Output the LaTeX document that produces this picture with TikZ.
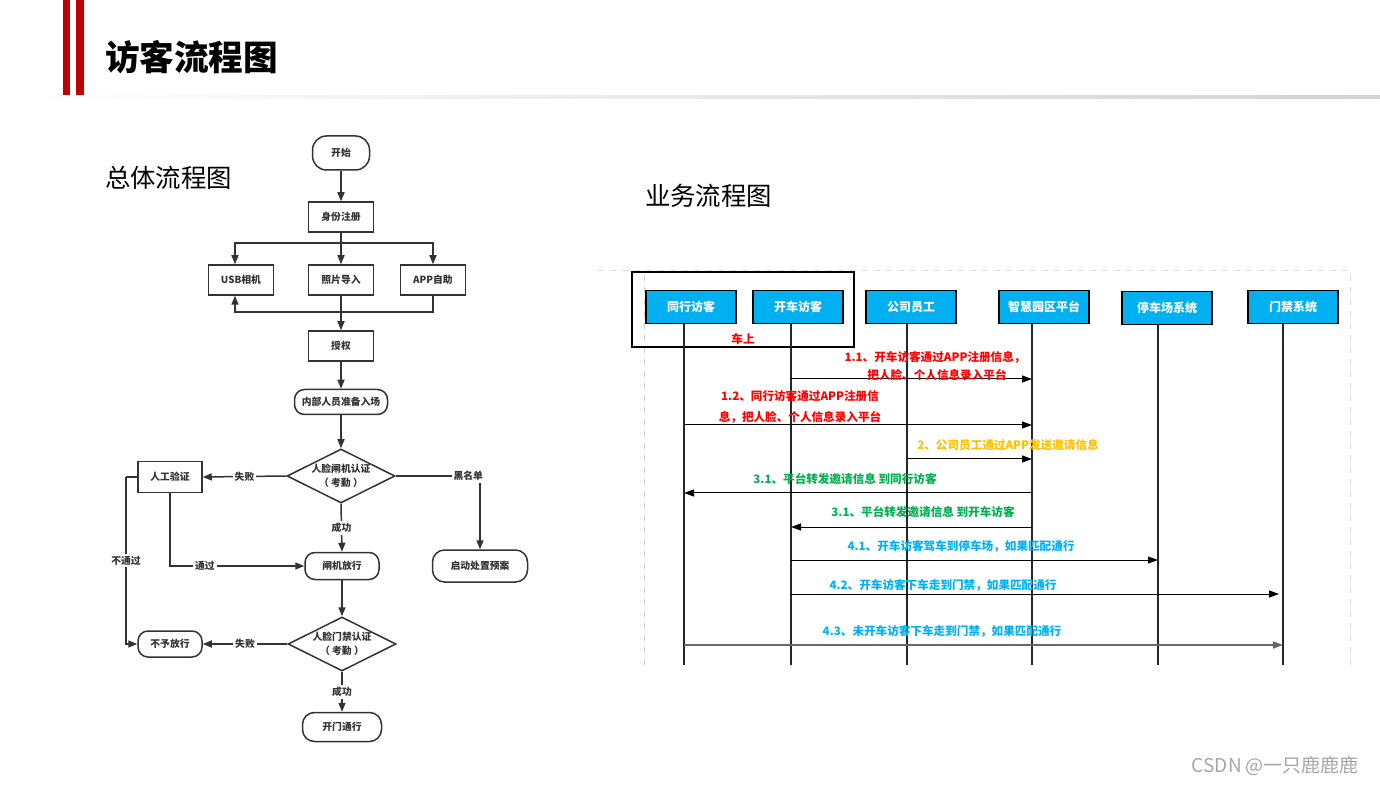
\documentclass[tikz,border=0pt]{standalone}
\usepackage{fontspec}
\setmainfont{Noto Sans CJK SC}
\usetikzlibrary{arrows.meta,shapes.geometric}
\definecolor{lc}{HTML}{333333}
\definecolor{hdred}{HTML}{C00000}
\definecolor{cyanb}{HTML}{00B0F0}
\definecolor{mred}{HTML}{FF0000}
\definecolor{morange}{HTML}{FFC000}
\definecolor{mgreen}{HTML}{00B050}
\definecolor{mblue}{HTML}{00B0F0}
\begin{document}
\begin{tikzpicture}[x=0.5pt,y=-0.5pt,
 ff/.style={font=\bfseries\fontsize{4.9pt}{7pt}\selectfont, text=lc},
 fbox/.style={ff, draw=lc, line width=0.75pt, inner sep=0pt, minimum width=32.5pt, minimum height=15pt},
 frbox/.style={fbox, rounded corners=5pt},
 fdia/.style={ff, draw=lc, line width=0.75pt, diamond, aspect=2, inner sep=0pt, minimum width=54pt, minimum height=27pt, align=center},
 fline/.style={draw=lc, line width=0.75pt},
 farr/.style={fline, -{Triangle[length=4.5pt,width=3.5pt]}},
 flbl/.style={ff, fill=white, inner sep=1pt},
 part/.style={draw=black, line width=0.6pt, fill=cyanb, text=white, font=\bfseries\fontsize{6pt}{7pt}\selectfont, minimum width=45pt, minimum height=16.5pt, inner sep=0pt},
 life/.style={draw=black!85, line width=1pt},
 msg/.style={draw=black, line width=0.5pt, -{Triangle[length=5pt,width=3.5pt]}},
 mlbl/.style={font=\bfseries\fontsize{5.8pt}{6pt}\selectfont, inner sep=0pt},
]
\useasboundingbox (0,0) rectangle (1380,785);
% header
\fill[hdred] (63,0) rectangle (70,96);
\fill[hdred] (76,0) rectangle (84,96);
\shade[left color=white, right color=gray!35] (5,96) rectangle (1380,99);
\node[anchor=west, font=\bfseries\fontsize{17.3pt}{20pt}\selectfont] (title) at (98,57) {访客流程图};
\node[anchor=west, font=\fontsize{12.7pt}{14pt}\selectfont] (sub1) at (98,178) {总体流程图};
\node[anchor=west, font=\fontsize{12.7pt}{14pt}\selectfont] (sub2) at (638,196) {业务流程图};

% flowchart
\node[frbox, rounded corners=7pt, minimum width=28.5pt, minimum height=17pt] (start) at (341,153) {开始};
\node[fbox] (reg) at (341,217) {身份注册};
\node[fbox] (usb) at (241,280) {USB相机};
\node[fbox] (photo) at (341,280) {照片导入};
\node[fbox] (app) at (433,280) {APP自助};
\node[fbox] (auth) at (341,346) {授权};
\node[frbox, minimum width=46.5pt, minimum height=12.5pt] (prep) at (341,402) {内部人员准备入场};
\node[fdia] (d1) at (341,476) {人脸闸机认证\\（ 考勤 ）};
\node[fbox, minimum width=32pt, minimum height=15.5pt] (manual) at (170,477) {人工验证};
\node[frbox, minimum width=47.5pt, minimum height=16pt, rounded corners=6pt] (blk) at (480,566) {启动处置预案};
\node[frbox, minimum width=37pt, minimum height=13.5pt] (gate) at (342,566) {闸机放行};
\node[fdia] (d2) at (342,644) {人脸门禁认证\\（ 考勤 ）};
\node[frbox, minimum width=32pt, minimum height=13pt] (deny) at (170,644) {不予放行};
\node[frbox, minimum width=39.5pt, minimum height=14.5pt, rounded corners=6pt] (open) at (342,727) {开门通行};

\coordinate (split) at (341,243);
\coordinate (join) at (341,312);
\coordinate (nl) at (126,477);
\draw[farr] (start) -- (reg);
\draw[fline] (reg) -- (split);
\draw[farr] (split) -| ([xshift=-3pt]usb.north);
\draw[farr] (split) -- (photo.north);
\draw[farr] (split) -| (app.north);
\draw[farr] (app.south) |- (join) -| ([xshift=-3pt]usb.south);
\draw[farr] (photo) -- (auth);
\draw[farr] (auth) -- (prep);
\draw[farr] (prep) -- (d1);
\draw[farr] (d1.west) -- node[flbl] {失败} (manual.east);
\draw[farr] (d1.east) -| node[flbl, pos=0.43] {黑名单} (blk.north);
\draw[farr] (d1.south) -- node[flbl] {成功} (gate.north);
\draw[farr] (manual.south) |- node[flbl, pos=0.63] {通过} (gate.west);
\draw[fline] (manual.west) -- (nl);
\draw[farr] (nl) |- node[flbl, pos=0.25] {不通过} (deny.west);
\draw[farr] (gate) -- (d2);
\draw[farr] (d2.west) -- node[flbl] {失败} (deny.east);
\draw[farr] (d2.south) -- node[flbl] {成功} (open.north);

% sequence diagram
\draw[gray!25, dashed, line width=0.5pt] (598,271) -- (1350,271) -- (1350,668);
\draw[gray!40, dashed, line width=0.5pt] (644,275) -- (644,668);
\draw[line width=1pt] (632,272) rectangle (854,347);
\node[mlbl, text=mred] (car) at (743,339) {车上};

\node[part] (p1) at (691,307) {同行访客};
\node[part] (p2) at (798,307) {开车访客};
\node[part] (p3) at (911,307) {公司员工};
\node[part] (p4) at (1044,307) {智慧园区平台};
\node[part] (p5) at (1167,308) {停车场系统};
\node[part] (p6) at (1293,307) {门禁系统};

\foreach \i/\x in {1/684,2/791,3/907,4/1032,5/1158,6/1283}{
  \coordinate (L\i) at (\x,324);
  \coordinate (E\i) at (\x,665);
  \draw[life] (L\i) -- (E\i);
}
\coordinate (y1) at (0,379);
\coordinate (y2) at (0,425);
\coordinate (y3) at (0,459);
\coordinate (y4) at (0,493);
\coordinate (y5) at (0,527);
\coordinate (y6) at (0,560);
\coordinate (y7) at (0,594);
\coordinate (y8) at (0,645);
\draw[msg] (L2 |- y1) -- (L4 |- y1);
\draw[msg] (L1 |- y2) -- (L4 |- y2);
\draw[msg] (L3 |- y3) -- (L4 |- y3);
\draw[msg] (L4 |- y4) -- (L1 |- y4);
\draw[msg] (L4 |- y5) -- (L2 |- y5);
\draw[msg] (L2 |- y6) -- (L5 |- y6);
\draw[msg, shorten >=2pt] (L2 |- y7) -- (L6 |- y7);
\draw[msg, draw=black!60, line width=0.9pt] (L1 |- y8) -- (L6 |- y8);

\node[mlbl, text=mred] (t11a) at (935,357) {1.1、开车访客通过APP注册信息，};
\node[mlbl, text=mred] (t11b) at (937,375) {把人脸、个人信息录入平台};
\node[mlbl, text=mred] (t12a) at (800,396) {1.2、同行访客通过APP注册信};
\node[mlbl, text=mred] (t12b) at (800,417) {息，把人脸、个人信息录入平台};
\node[mlbl, text=morange] (t2) at (1008,445) {2、公司员工通过APP发送邀请信息};
\node[mlbl, text=mgreen] (t31a) at (845,479) {3.1、平台转发邀请信息 到同行访客};
\node[mlbl, text=mgreen] (t31b) at (923,512) {3.1、平台转发邀请信息 到开车访客};
\node[mlbl, text=mblue] (t41) at (961,546) {4.1、开车访客驾车到停车场，如果匹配通行};
\node[mlbl, text=mblue] (t42) at (943,585) {4.2、开车访客下车走到门禁，如果匹配通行};
\node[mlbl, text=mblue] (t43) at (942,631) {4.3、未开车访客下车走到门禁，如果匹配通行};

\node[anchor=east, text=gray!70, font=\fontsize{9.5pt}{10pt}\selectfont] (wm) at (1366,766) {CSDN @一只鹿鹿鹿};
\end{tikzpicture}
\end{document}
